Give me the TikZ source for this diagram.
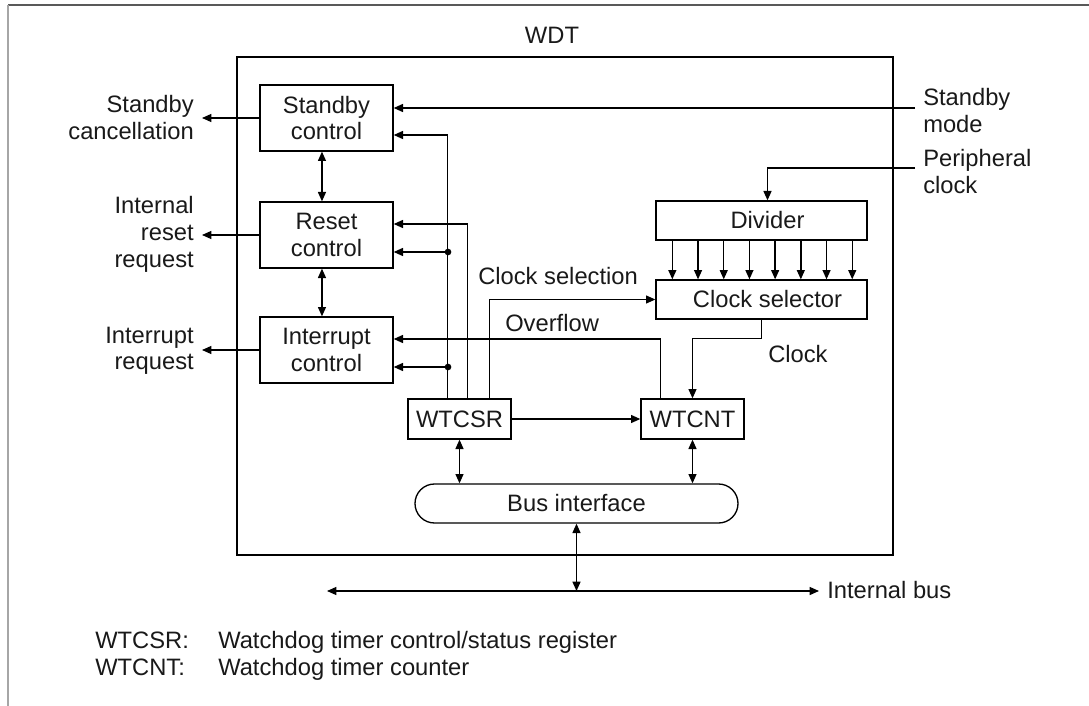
\documentclass[tikz,border=0pt]{standalone}
\usepackage{fontspec}
\setmainfont{Liberation Sans}
\usetikzlibrary{arrows.meta}
\begin{document}
\begin{tikzpicture}[x=0.75pt,y=-0.75pt,
  every node/.style={font=\fontsize{17.8}{20}\selectfont, inner sep=0pt, text=black!90},
  blk/.style={draw, line width=1pt, align=center},
  ln/.style={line width=1pt},
  arr/.style={ln, -{Triangle[length=7pt,width=6pt]}},
  darr/.style={ln, {Triangle[length=7pt,width=6pt]}-{Triangle[length=7pt,width=6pt]}},
  dotn/.style={circle, fill, minimum size=5pt}
]
\useasboundingbox (0,0) rectangle (1089,706);
% page frame
\draw[black!65, line width=0.9pt] (8,5) -- (1089,5);
\draw[black!35, line width=1.2pt] (8,5) -- (8,706);

% WDT box
\node (wdtlbl) [anchor=base] at (552,44) {WDT};
\node[blk, minimum width=492pt, minimum height=373.5pt] (wdt) at (565,306) {};

% blocks
\node[blk, minimum width=99.75pt, minimum height=49.5pt] (sb) at (326.5,118) {Standby\\control};
\node[blk, minimum width=99.75pt, minimum height=49.5pt] (rc) at (326.5,235) {Reset\\control};
\node[blk, minimum width=99.75pt, minimum height=49.5pt] (ic) at (326.5,350) {Interrupt\\control};
\node[blk, minimum width=77.25pt, minimum height=30pt] (wtcsr) at (459.5,419) {WTCSR};
\node[blk, minimum width=77.25pt, minimum height=30pt] (wtcnt) at (692.5,419) {WTCNT};
\node[blk, minimum width=158.25pt, minimum height=29.25pt] (div) at (761.5,220.5) {\hspace{9pt}Divider};
\node[blk, minimum width=158.25pt, minimum height=29.25pt] (cs) at (761.5,299.5) {\hspace{9pt}Clock selector};
\node[blk, rounded corners=14.6pt, minimum width=242.25pt, minimum height=29.25pt] (bus) at (576.5,503.5) {Bus interface};

% outer labels, left
\node[anchor=north east, align=right] (lsc) at (194,95.5) {Standby\\cancellation};
\node[anchor=north east, align=right] (lrr) at (194,196.5) {Internal\\reset\\request};
\node[anchor=north east, align=right] (lir) at (194,326.5) {Interrupt\\request};
\coordinate (psc) at (202,118);
\coordinate (prr) at (202,235);
\coordinate (pir) at (202,350);
\draw[arr] (sb.west) -- (psc);
\draw[arr] (rc.west) -- (prr);
\draw[arr] (ic.west) -- (pir);

% outer labels, right
\node[anchor=north west, align=left] (lsm) at (923,88.5) {Standby\\mode};
\node[anchor=north west, align=left] (lpc) at (923,149.5) {Peripheral\\clock};
\coordinate (psm) at (915,108);
\coordinate (ppc) at (915,168);
\draw[arr] (psm) -- (sb.east |- psm);
\draw[arr] (ppc) -| ([xshift=4.5pt]div.north);

% between control blocks
\draw[darr] ([xshift=-3.4pt]sb.south) -- ([xshift=-3.4pt]rc.north);
\draw[darr] ([xshift=-3.4pt]rc.south) -- ([xshift=-3.4pt]ic.north);

% WTCSR outputs
\draw[arr] ([xshift=30pt]wtcsr.north west) |- ([yshift=-12.75pt]sb.east);
\draw[arr] ([xshift=45pt]wtcsr.north west) |- ([yshift=8.25pt]rc.east);
\node[dotn] (d1) at (448,252) {};
\node[dotn] (d2) at (448,367) {};
\draw[arr] (d1.center) -- (rc.east |- d1);
\draw[arr] (d2.center) -- (ic.east |- d2);
\draw[arr] ([xshift=61.5pt]wtcsr.north west) |- (cs.west);
\draw[arr] (wtcsr.east) -- (wtcsr.east -| wtcnt.west);

% overflow
\draw[arr] ([xshift=15pt]wtcnt.north west) |- ([yshift=8.25pt]ic.east);

% clock
\draw[arr] (cs.south) -- ++(0,19) -| (wtcnt.north);

% divider outputs
\foreach \i [evaluate=\i as \dx using 12.75+\i*19.275] in {0,...,7}
  \draw[arr] ([xshift=\dx pt]div.south west) -- ([xshift=\dx pt]cs.north west);

% inner labels
\node[anchor=base west] (lcs) at (478,284.6) {Clock selection};
\node[anchor=base west] (lov) at (505,331.6) {Overflow};
\node[anchor=base west] (lck) at (768,362.6) {Clock};

% bus
\draw[darr] (wtcsr.south) -- (wtcsr.south |- bus.north);
\draw[darr] (wtcnt.south) -- (wtcnt.south |- bus.north);
\coordinate (ibm) at (576.5,591);
\coordinate (ibl) at (327,591);
\coordinate (ibr) at (819,591);
\draw[darr] (bus.south) -- (ibm);
\draw[darr] (ibl) -- (ibr);
\node[anchor=base west] (lib) at (827,598.6) {Internal bus};

% legend
\node[anchor=base west] (k1) at (95,648) {WTCSR:};
\node[anchor=base west] (v1) at (218,648) {Watchdog timer control/status register};
\node[anchor=base west] (k2) at (95,675) {WTCNT:};
\node[anchor=base west] (v2) at (218,675) {Watchdog timer counter};
\end{tikzpicture}
\end{document}
